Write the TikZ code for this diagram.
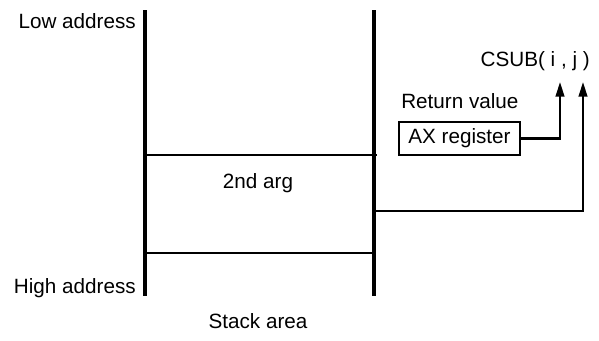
\documentclass[tikz,border=0pt]{standalone}
\usepackage{fontspec}
\setmainfont{Liberation Sans}
\usetikzlibrary{arrows.meta}
\begin{document}
\begin{tikzpicture}[x=0.75pt,y=-0.75pt,
  lbl/.style={inner sep=0pt,font=\fontsize{15.5}{18}\selectfont},
  wall/.style={line width=2.3pt},
  sep/.style={line width=1.1pt},
  conn/.style={line width=1.6pt,-{Triangle[length=11pt,width=6.5pt]}},
  regbox/.style={draw,line width=1.6pt,minimum width=90.75pt,minimum height=24.75pt,inner sep=0pt,font=\fontsize{15.5}{18}\selectfont}]
\useasboundingbox (0,0) rectangle (599,340);
% stack walls
\coordinate (lt) at (145,10); \coordinate (lb) at (145,296);
\coordinate (rt) at (374,10); \coordinate (rb) at (374,296);
\draw[wall] (lt) -- (lb);
\draw[wall] (rt) -- (rb);
\coordinate (s1l) at (145,155); \coordinate (s1r) at (377,155);
\coordinate (s2l) at (145,253); \coordinate (s2r) at (374,253);
\draw[sep] (s1l) -- (s1r);
\draw[sep] (s2l) -- (s2r);
% labels
\node[lbl,anchor=base east] (low) at (136,28) {Low address};
\node[lbl,anchor=base east] (high) at (136,293) {High address};
\node[lbl,anchor=base] (arg) at (258,188) {2nd arg};
\node[lbl,anchor=base] (stack) at (258,328) {Stack area};
\node[lbl,anchor=base east] (csub) at (590,66) {CSUB( i , j )};
\node[lbl,anchor=base west] (ret) at (401,108) {Return value};
\node[regbox] (ax) at (459.5,138.5) {AX register};
% connectors
\coordinate (ti) at (560,82);
\coordinate (tj) at (583,82);
\coordinate (src) at (374,211);
\draw[conn] (ax.east) -| (ti);
\draw[conn] (src) -| (tj);
\end{tikzpicture}
\end{document}
